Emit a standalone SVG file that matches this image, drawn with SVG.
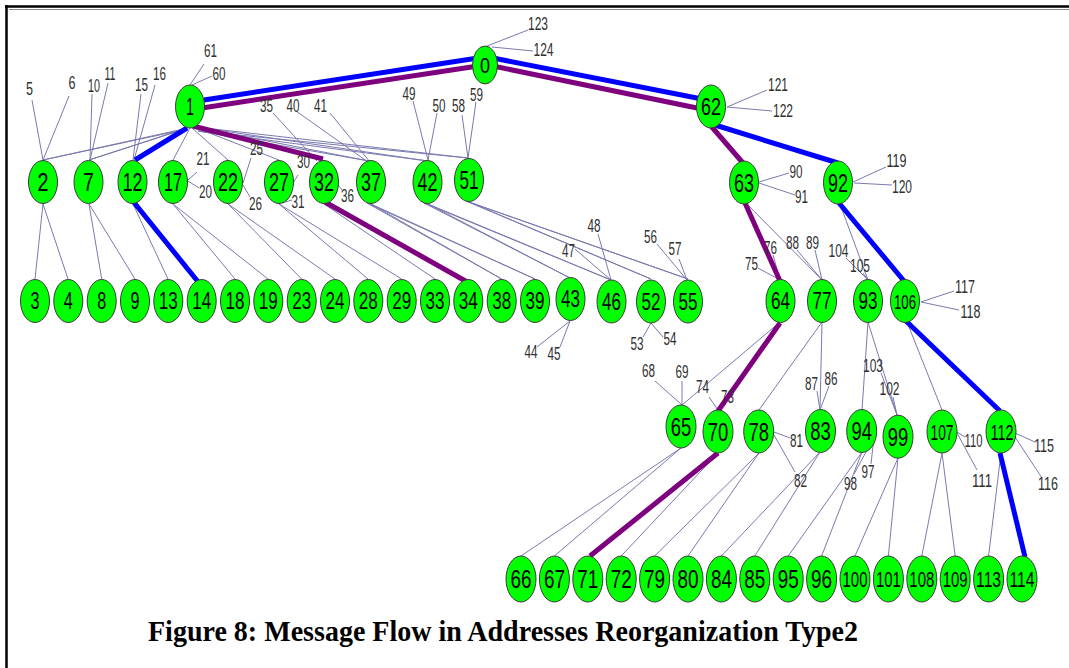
<svg xmlns="http://www.w3.org/2000/svg" width="1069" height="668" viewBox="0 0 1069 668">
<style>
.nd{fill:#00ff00;stroke:#3a3a3a;stroke-width:1}
.lb{font-family:"Liberation Sans",Arial,sans-serif;text-anchor:middle;fill:#000}
.f22{font-size:22px}.f23{font-size:23px}.f25{font-size:25px}.f26{font-size:26px}.f21{font-size:21px}
.sm{font-family:"Liberation Sans",Arial,sans-serif;font-size:18px;fill:#303030;text-anchor:middle}
.th line{stroke:#7a7ab0;stroke-width:1}
.bl{stroke:#0000ff;stroke-width:5}
.pu{stroke:#7f007f;stroke-width:5}
.cap{font-family:"Liberation Serif","Times New Roman",serif;font-weight:bold;font-size:29px;fill:#000}
</style>
<rect width="1069" height="668" fill="#fff"/>
<g id="frame">
<line x1="5" y1="6.5" x2="1069" y2="6.5" stroke="#000" stroke-width="2.5"/>
<line x1="9" y1="9.5" x2="1069" y2="9.5" stroke="#888" stroke-width="1"/>
<line x1="6.5" y1="5" x2="6.5" y2="668" stroke="#000" stroke-width="2.5"/>
</g>
<g id="connectors">
<g class="th">
<line x1="487" y1="46" x2="528" y2="30"/><line x1="492" y1="47" x2="533" y2="51"/>
<line x1="190" y1="85" x2="204" y2="64"/><line x1="192" y1="85" x2="212" y2="76"/>
<line x1="188" y1="128" x2="43" y2="160"/><line x1="178" y1="131" x2="43" y2="160"/>
<line x1="188" y1="128" x2="89" y2="160"/><line x1="178" y1="131" x2="89" y2="160"/>
<line x1="190" y1="128" x2="173" y2="160"/>
<line x1="192" y1="128" x2="228" y2="160"/>
<line x1="194" y1="127" x2="279" y2="160"/>
<line x1="196" y1="127" x2="369" y2="161"/><line x1="198" y1="131" x2="369" y2="161"/>
<line x1="196" y1="127" x2="428" y2="161"/><line x1="198" y1="131" x2="428" y2="161"/>
<line x1="196" y1="127" x2="468" y2="158"/><line x1="198" y1="131" x2="468" y2="158"/>
<line x1="43" y1="160" x2="32" y2="100"/><line x1="43" y1="160" x2="69" y2="96"/>
<line x1="90" y1="160" x2="92" y2="94"/><line x1="90" y1="160" x2="108" y2="83"/>
<line x1="133" y1="160" x2="141" y2="94"/><line x1="134" y1="160" x2="155" y2="85"/>
<line x1="188" y1="180" x2="197" y2="172"/><line x1="188" y1="181" x2="199" y2="188"/>
<line x1="243" y1="183" x2="251" y2="158"/><line x1="243" y1="185" x2="250" y2="197"/>
<line x1="293" y1="183" x2="298" y2="175"/><line x1="282" y1="203" x2="292" y2="200"/>
<line x1="317" y1="161" x2="273" y2="113"/><line x1="338" y1="185" x2="342" y2="190"/>
<line x1="368" y1="162" x2="296" y2="111"/><line x1="370" y1="162" x2="330" y2="113"/>
<line x1="428" y1="160" x2="413" y2="101"/><line x1="428" y1="160" x2="437" y2="113"/>
<line x1="468" y1="158" x2="462" y2="115"/><line x1="468" y1="158" x2="476" y2="102"/>
<line x1="727" y1="107" x2="767" y2="90"/><line x1="727" y1="107" x2="772" y2="111"/>
<line x1="759" y1="182" x2="789" y2="173"/><line x1="759" y1="183" x2="795" y2="195"/>
<line x1="853" y1="182" x2="886" y2="167"/><line x1="854" y1="183" x2="892" y2="185"/>
<line x1="746" y1="203" x2="822" y2="280"/>
<line x1="840" y1="204" x2="868" y2="280"/>
<line x1="43" y1="204" x2="35" y2="279"/><line x1="43" y1="204" x2="68" y2="279"/>
<line x1="89" y1="204" x2="101.7" y2="279"/><line x1="89" y1="204" x2="135" y2="279"/>
<line x1="133" y1="204" x2="168" y2="279"/>
<line x1="173" y1="204" x2="235" y2="279"/><line x1="173" y1="204" x2="268" y2="279"/>
<line x1="228" y1="204" x2="301.7" y2="279"/><line x1="228" y1="204" x2="335" y2="279"/>
<line x1="279" y1="204" x2="368" y2="279"/><line x1="279" y1="204" x2="401.7" y2="279"/>
<line x1="324" y1="204" x2="435" y2="279"/>
<line x1="371" y1="204" x2="501.7" y2="279"/><line x1="367" y1="203" x2="501.7" y2="279"/>
<line x1="371" y1="204" x2="535" y2="279"/><line x1="367" y1="203" x2="535" y2="279"/>
<line x1="428" y1="204" x2="570" y2="278"/><line x1="424" y1="203" x2="570" y2="278"/>
<line x1="428" y1="204" x2="611" y2="280"/><line x1="424" y1="203" x2="611" y2="280"/>
<line x1="469" y1="202" x2="651" y2="279"/><line x1="466" y1="201" x2="651" y2="279"/>
<line x1="469" y1="202" x2="688" y2="279"/><line x1="466" y1="201" x2="688" y2="279"/>
<line x1="570" y1="321" x2="537" y2="347"/><line x1="570" y1="321" x2="560" y2="347"/>
<line x1="611" y1="280" x2="575" y2="249"/><line x1="611" y1="280" x2="598" y2="234"/>
<line x1="651" y1="323" x2="643" y2="337"/><line x1="651" y1="323" x2="663" y2="337"/>
<line x1="687" y1="280" x2="657" y2="244"/><line x1="687" y1="280" x2="679" y2="259"/>
<line x1="780" y1="280" x2="758" y2="268"/><line x1="780" y1="280" x2="773" y2="255"/>
<line x1="822" y1="280" x2="797" y2="250"/><line x1="822" y1="280" x2="815" y2="250"/>
<line x1="868" y1="280" x2="846" y2="258"/><line x1="868" y1="280" x2="863" y2="273"/>
<line x1="921" y1="302" x2="954" y2="291"/><line x1="921" y1="302" x2="959" y2="310"/>
<line x1="907" y1="322" x2="942" y2="410"/>
<line x1="780" y1="322" x2="682" y2="405"/>
<line x1="822" y1="322" x2="759" y2="410"/><line x1="822" y1="322" x2="820" y2="410"/>
<line x1="868" y1="322" x2="862" y2="410"/><line x1="868" y1="322" x2="897" y2="415"/>
<line x1="682" y1="405" x2="655" y2="381"/><line x1="682" y1="405" x2="682" y2="381"/>
<line x1="718" y1="410" x2="709" y2="397"/><line x1="718" y1="410" x2="726" y2="404"/>
<line x1="820" y1="410" x2="817" y2="391"/><line x1="820" y1="410" x2="829" y2="386"/>
<line x1="897" y1="415" x2="881" y2="373"/><line x1="897" y1="415" x2="893" y2="397"/>
<line x1="774" y1="432" x2="790" y2="438"/><line x1="774" y1="435" x2="795" y2="472"/>
<line x1="874" y1="437" x2="871" y2="464"/><line x1="872" y1="441" x2="854" y2="474"/>
<line x1="957" y1="432" x2="965" y2="437"/><line x1="957" y1="433" x2="977" y2="470"/>
<line x1="1015" y1="433" x2="1035" y2="442"/><line x1="1015" y1="437" x2="1042" y2="478"/>
<line x1="681" y1="448" x2="521" y2="556"/><line x1="681" y1="448" x2="554.4" y2="556"/>
<line x1="718" y1="453" x2="621.2" y2="556"/>
<line x1="759" y1="453" x2="654.6" y2="556"/><line x1="759" y1="453" x2="688" y2="556"/>
<line x1="820" y1="452" x2="721.4" y2="556"/><line x1="820" y1="452" x2="754.8" y2="556"/>
<line x1="862" y1="452" x2="788.2" y2="556"/><line x1="862" y1="452" x2="821.6" y2="556"/>
<line x1="898" y1="458" x2="855" y2="556"/><line x1="898" y1="458" x2="888.4" y2="556"/>
<line x1="942" y1="453" x2="921.8" y2="556"/><line x1="942" y1="453" x2="955.2" y2="556"/>
<line x1="1001" y1="453" x2="988.6" y2="556"/>
</g>
<g id="blue-path">
<line class="bl" x1="204" y1="100" x2="478" y2="58"/>
<line class="bl" x1="493" y1="58" x2="702" y2="99"/>
<line class="bl" x1="715" y1="125" x2="838" y2="163"/>
<line class="bl" x1="839" y1="203" x2="904" y2="281"/>
<line class="bl" x1="906" y1="321" x2="1000" y2="411"/>
<line class="bl" x1="1000" y1="453" x2="1025" y2="557"/>
<line class="bl" x1="187" y1="128" x2="135" y2="160"/>
<line class="bl" x1="132" y1="200" x2="199" y2="283"/>
</g>
<g id="purple-path">
<line class="pu" x1="202" y1="108" x2="478" y2="66"/>
<line class="pu" x1="493" y1="66" x2="697" y2="108"/>
<line class="pu" x1="711" y1="126" x2="743" y2="163"/>
<line class="pu" x1="745" y1="203" x2="780" y2="281"/>
<line class="pu" x1="780" y1="323" x2="718" y2="411"/>
<line class="pu" x1="718" y1="453" x2="590" y2="556"/>
<line class="pu" x1="193" y1="126" x2="323" y2="159"/>
<line class="pu" x1="325" y1="202" x2="469" y2="283"/>
</g>
</g>
<g id="leaf-labels">
<text class="sm" x="210.5" y="57" textLength="13" lengthAdjust="spacingAndGlyphs">61</text>
<text class="sm" x="219" y="80" textLength="13" lengthAdjust="spacingAndGlyphs">60</text>
<text class="sm" x="29.5" y="95" textLength="7" lengthAdjust="spacingAndGlyphs">5</text>
<text class="sm" x="72" y="89" textLength="7" lengthAdjust="spacingAndGlyphs">6</text>
<text class="sm" x="94" y="92" textLength="12" lengthAdjust="spacingAndGlyphs">10</text>
<text class="sm" x="110" y="80" textLength="11" lengthAdjust="spacingAndGlyphs">11</text>
<text class="sm" x="141.5" y="91" textLength="13" lengthAdjust="spacingAndGlyphs">15</text>
<text class="sm" x="159.5" y="80" textLength="13" lengthAdjust="spacingAndGlyphs">16</text>
<text class="sm" x="203" y="165" textLength="13" lengthAdjust="spacingAndGlyphs">21</text>
<text class="sm" x="205.5" y="198" textLength="13" lengthAdjust="spacingAndGlyphs">20</text>
<text class="sm" x="256.5" y="155" textLength="13" lengthAdjust="spacingAndGlyphs">25</text>
<text class="sm" x="255.5" y="210" textLength="13" lengthAdjust="spacingAndGlyphs">26</text>
<text class="sm" x="303.5" y="168" textLength="13" lengthAdjust="spacingAndGlyphs">30</text>
<text class="sm" x="298" y="208" textLength="13" lengthAdjust="spacingAndGlyphs">31</text>
<text class="sm" x="266.5" y="112" textLength="13" lengthAdjust="spacingAndGlyphs">35</text>
<text class="sm" x="347.5" y="202" textLength="13" lengthAdjust="spacingAndGlyphs">36</text>
<text class="sm" x="293" y="112" textLength="13" lengthAdjust="spacingAndGlyphs">40</text>
<text class="sm" x="320.5" y="112" textLength="13" lengthAdjust="spacingAndGlyphs">41</text>
<text class="sm" x="409" y="100" textLength="13" lengthAdjust="spacingAndGlyphs">49</text>
<text class="sm" x="439" y="112" textLength="13" lengthAdjust="spacingAndGlyphs">50</text>
<text class="sm" x="458.5" y="112" textLength="13" lengthAdjust="spacingAndGlyphs">58</text>
<text class="sm" x="476.5" y="101" textLength="13" lengthAdjust="spacingAndGlyphs">59</text>
<text class="sm" x="538" y="30" textLength="20" lengthAdjust="spacingAndGlyphs">123</text>
<text class="sm" x="543.5" y="56" textLength="20" lengthAdjust="spacingAndGlyphs">124</text>
<text class="sm" x="778" y="91" textLength="20" lengthAdjust="spacingAndGlyphs">121</text>
<text class="sm" x="783" y="117" textLength="20" lengthAdjust="spacingAndGlyphs">122</text>
<text class="sm" x="796" y="178" textLength="13" lengthAdjust="spacingAndGlyphs">90</text>
<text class="sm" x="801.5" y="203" textLength="13" lengthAdjust="spacingAndGlyphs">91</text>
<text class="sm" x="896.5" y="167" textLength="20" lengthAdjust="spacingAndGlyphs">119</text>
<text class="sm" x="902" y="193" textLength="20" lengthAdjust="spacingAndGlyphs">120</text>
<text class="sm" x="568.5" y="257" textLength="13" lengthAdjust="spacingAndGlyphs">47</text>
<text class="sm" x="594" y="232" textLength="13" lengthAdjust="spacingAndGlyphs">48</text>
<text class="sm" x="531" y="358" textLength="13" lengthAdjust="spacingAndGlyphs">44</text>
<text class="sm" x="554" y="360" textLength="13" lengthAdjust="spacingAndGlyphs">45</text>
<text class="sm" x="637" y="350" textLength="13" lengthAdjust="spacingAndGlyphs">53</text>
<text class="sm" x="670" y="345" textLength="13" lengthAdjust="spacingAndGlyphs">54</text>
<text class="sm" x="650.5" y="243" textLength="13" lengthAdjust="spacingAndGlyphs">56</text>
<text class="sm" x="675" y="255" textLength="13" lengthAdjust="spacingAndGlyphs">57</text>
<text class="sm" x="751.5" y="270" textLength="13" lengthAdjust="spacingAndGlyphs">75</text>
<text class="sm" x="770.5" y="254" textLength="13" lengthAdjust="spacingAndGlyphs">76</text>
<text class="sm" x="792.5" y="249" textLength="13" lengthAdjust="spacingAndGlyphs">88</text>
<text class="sm" x="812.5" y="249" textLength="13" lengthAdjust="spacingAndGlyphs">89</text>
<text class="sm" x="838.5" y="257" textLength="20" lengthAdjust="spacingAndGlyphs">104</text>
<text class="sm" x="860" y="272" textLength="20" lengthAdjust="spacingAndGlyphs">105</text>
<text class="sm" x="965" y="293" textLength="20" lengthAdjust="spacingAndGlyphs">117</text>
<text class="sm" x="970.5" y="318" textLength="20" lengthAdjust="spacingAndGlyphs">118</text>
<text class="sm" x="648.5" y="377" textLength="13" lengthAdjust="spacingAndGlyphs">68</text>
<text class="sm" x="682" y="378" textLength="13" lengthAdjust="spacingAndGlyphs">69</text>
<text class="sm" x="702.5" y="393" textLength="13" lengthAdjust="spacingAndGlyphs">74</text>
<text class="sm" x="727.5" y="403" textLength="13" lengthAdjust="spacingAndGlyphs">73</text>
<text class="sm" x="811.5" y="390" textLength="13" lengthAdjust="spacingAndGlyphs">87</text>
<text class="sm" x="831" y="385" textLength="13" lengthAdjust="spacingAndGlyphs">86</text>
<text class="sm" x="873" y="372" textLength="20" lengthAdjust="spacingAndGlyphs">103</text>
<text class="sm" x="889.5" y="395" textLength="20" lengthAdjust="spacingAndGlyphs">102</text>
<text class="sm" x="796.5" y="447" textLength="13" lengthAdjust="spacingAndGlyphs">81</text>
<text class="sm" x="800.5" y="487" textLength="13" lengthAdjust="spacingAndGlyphs">82</text>
<text class="sm" x="868" y="478" textLength="13" lengthAdjust="spacingAndGlyphs">97</text>
<text class="sm" x="850.5" y="490" textLength="13" lengthAdjust="spacingAndGlyphs">98</text>
<text class="sm" x="973.5" y="447" textLength="18" lengthAdjust="spacingAndGlyphs">110</text>
<text class="sm" x="982" y="487" textLength="20" lengthAdjust="spacingAndGlyphs">111</text>
<text class="sm" x="1044" y="452" textLength="20" lengthAdjust="spacingAndGlyphs">115</text>
<text class="sm" x="1048" y="490" textLength="20" lengthAdjust="spacingAndGlyphs">116</text>
</g>
<g id="nodes">
<g id="n0"><ellipse class="nd" cx="485" cy="65" rx="12.5" ry="19"/><text class="lb f22" x="485" y="73" textLength="10" lengthAdjust="spacingAndGlyphs">0</text></g>
<g id="n1"><ellipse class="nd" cx="190" cy="106.5" rx="14.5" ry="21.5"/><text class="lb f23" x="190" y="115" textLength="8" lengthAdjust="spacingAndGlyphs">1</text></g>
<g id="n62"><ellipse class="nd" cx="711" cy="106.5" rx="14.5" ry="21.5"/><text class="lb f23" x="711" y="115" textLength="20" lengthAdjust="spacingAndGlyphs">62</text></g>
<g id="n2"><ellipse class="nd" cx="43" cy="182" rx="14.5" ry="21.5"/><text class="lb f25" x="43" y="191" textLength="11" lengthAdjust="spacingAndGlyphs">2</text></g>
<g id="n7"><ellipse class="nd" cx="88.5" cy="182" rx="14.5" ry="21.5"/><text class="lb f25" x="88.5" y="191" textLength="11" lengthAdjust="spacingAndGlyphs">7</text></g>
<g id="n12"><ellipse class="nd" cx="132.5" cy="182" rx="14.5" ry="21.5"/><text class="lb f25" x="132.5" y="191" textLength="20" lengthAdjust="spacingAndGlyphs">12</text></g>
<g id="n17"><ellipse class="nd" cx="173" cy="182" rx="14.5" ry="21.5"/><text class="lb f25" x="173" y="191" textLength="18" lengthAdjust="spacingAndGlyphs">17</text></g>
<g id="n22"><ellipse class="nd" cx="228" cy="182" rx="14.5" ry="21.5"/><text class="lb f25" x="228" y="191" textLength="20" lengthAdjust="spacingAndGlyphs">22</text></g>
<g id="n27"><ellipse class="nd" cx="279" cy="182" rx="14.5" ry="21.5"/><text class="lb f25" x="279" y="191" textLength="20" lengthAdjust="spacingAndGlyphs">27</text></g>
<g id="n32"><ellipse class="nd" cx="324" cy="182" rx="14.5" ry="21.5"/><text class="lb f25" x="324" y="191" textLength="20" lengthAdjust="spacingAndGlyphs">32</text></g>
<g id="n37"><ellipse class="nd" cx="371" cy="182" rx="14.5" ry="21.5"/><text class="lb f25" x="371" y="191" textLength="20" lengthAdjust="spacingAndGlyphs">37</text></g>
<g id="n42"><ellipse class="nd" cx="427.5" cy="182" rx="14.5" ry="21.5"/><text class="lb f25" x="427.5" y="191" textLength="20" lengthAdjust="spacingAndGlyphs">42</text></g>
<g id="n51"><ellipse class="nd" cx="469" cy="180" rx="14.5" ry="21.5"/><text class="lb f25" x="469" y="189" textLength="19" lengthAdjust="spacingAndGlyphs">51</text></g>
<g id="n63"><ellipse class="nd" cx="744" cy="182.5" rx="14.5" ry="21.5"/><text class="lb f25" x="744" y="191.5" textLength="20" lengthAdjust="spacingAndGlyphs">63</text></g>
<g id="n92"><ellipse class="nd" cx="838" cy="182.5" rx="14.5" ry="21.5"/><text class="lb f25" x="838" y="191.5" textLength="20" lengthAdjust="spacingAndGlyphs">92</text></g>
<g id="n3"><ellipse class="nd" cx="35" cy="301" rx="14.5" ry="21.5"/><text class="lb f23" x="35" y="309" textLength="9" lengthAdjust="spacingAndGlyphs">3</text></g>
<g id="n4"><ellipse class="nd" cx="68.3" cy="301" rx="14.5" ry="21.5"/><text class="lb f23" x="68.3" y="309" textLength="9" lengthAdjust="spacingAndGlyphs">4</text></g>
<g id="n8"><ellipse class="nd" cx="101.7" cy="301" rx="14.5" ry="21.5"/><text class="lb f23" x="101.7" y="309" textLength="9" lengthAdjust="spacingAndGlyphs">8</text></g>
<g id="n9"><ellipse class="nd" cx="135" cy="301" rx="14.5" ry="21.5"/><text class="lb f23" x="135" y="309" textLength="9" lengthAdjust="spacingAndGlyphs">9</text></g>
<g id="n13"><ellipse class="nd" cx="168.3" cy="301" rx="14.5" ry="21.5"/><text class="lb f23" x="168.3" y="309" textLength="19" lengthAdjust="spacingAndGlyphs">13</text></g>
<g id="n14"><ellipse class="nd" cx="201.7" cy="301" rx="14.5" ry="21.5"/><text class="lb f23" x="201.7" y="309" textLength="19" lengthAdjust="spacingAndGlyphs">14</text></g>
<g id="n18"><ellipse class="nd" cx="235" cy="301" rx="14.5" ry="21.5"/><text class="lb f23" x="235" y="309" textLength="19" lengthAdjust="spacingAndGlyphs">18</text></g>
<g id="n19"><ellipse class="nd" cx="268.3" cy="301" rx="14.5" ry="21.5"/><text class="lb f23" x="268.3" y="309" textLength="19" lengthAdjust="spacingAndGlyphs">19</text></g>
<g id="n23"><ellipse class="nd" cx="301.7" cy="301" rx="14.5" ry="21.5"/><text class="lb f23" x="301.7" y="309" textLength="19" lengthAdjust="spacingAndGlyphs">23</text></g>
<g id="n24"><ellipse class="nd" cx="335" cy="301" rx="14.5" ry="21.5"/><text class="lb f23" x="335" y="309" textLength="19" lengthAdjust="spacingAndGlyphs">24</text></g>
<g id="n28"><ellipse class="nd" cx="368.3" cy="301" rx="14.5" ry="21.5"/><text class="lb f23" x="368.3" y="309" textLength="19" lengthAdjust="spacingAndGlyphs">28</text></g>
<g id="n29"><ellipse class="nd" cx="401.7" cy="301" rx="14.5" ry="21.5"/><text class="lb f23" x="401.7" y="309" textLength="19" lengthAdjust="spacingAndGlyphs">29</text></g>
<g id="n33"><ellipse class="nd" cx="435" cy="301" rx="14.5" ry="21.5"/><text class="lb f23" x="435" y="309" textLength="19" lengthAdjust="spacingAndGlyphs">33</text></g>
<g id="n34"><ellipse class="nd" cx="468.3" cy="301" rx="14.5" ry="21.5"/><text class="lb f23" x="468.3" y="309" textLength="19" lengthAdjust="spacingAndGlyphs">34</text></g>
<g id="n38"><ellipse class="nd" cx="501.7" cy="301" rx="14.5" ry="21.5"/><text class="lb f23" x="501.7" y="309" textLength="19" lengthAdjust="spacingAndGlyphs">38</text></g>
<g id="n39"><ellipse class="nd" cx="535" cy="301" rx="14.5" ry="21.5"/><text class="lb f23" x="535" y="309" textLength="19" lengthAdjust="spacingAndGlyphs">39</text></g>
<g id="n43"><ellipse class="nd" cx="570.5" cy="299" rx="14.5" ry="21.5"/><text class="lb f23" x="570.5" y="307" textLength="19" lengthAdjust="spacingAndGlyphs">43</text></g>
<g id="n46"><ellipse class="nd" cx="611.5" cy="301.5" rx="14.5" ry="21.5"/><text class="lb f23" x="611.5" y="309.5" textLength="19" lengthAdjust="spacingAndGlyphs">46</text></g>
<g id="n52"><ellipse class="nd" cx="651" cy="301.5" rx="14.5" ry="21.5"/><text class="lb f23" x="651" y="309.5" textLength="19" lengthAdjust="spacingAndGlyphs">52</text></g>
<g id="n55"><ellipse class="nd" cx="688" cy="301.5" rx="14.5" ry="21.5"/><text class="lb f23" x="688" y="309.5" textLength="19" lengthAdjust="spacingAndGlyphs">55</text></g>
<g id="n64"><ellipse class="nd" cx="780.5" cy="301" rx="14.5" ry="21.5"/><text class="lb f23" x="780.5" y="309" textLength="19" lengthAdjust="spacingAndGlyphs">64</text></g>
<g id="n77"><ellipse class="nd" cx="822" cy="301" rx="14.5" ry="21.5"/><text class="lb f23" x="822" y="309" textLength="19" lengthAdjust="spacingAndGlyphs">77</text></g>
<g id="n93"><ellipse class="nd" cx="868" cy="301" rx="14.5" ry="21.5"/><text class="lb f23" x="868" y="309" textLength="19" lengthAdjust="spacingAndGlyphs">93</text></g>
<g id="n106"><ellipse class="nd" cx="905" cy="301" rx="14.5" ry="21.5"/><text class="lb f21" x="905" y="308.5" textLength="22" lengthAdjust="spacingAndGlyphs">106</text></g>
<g id="n65"><ellipse class="nd" cx="681" cy="426.5" rx="15" ry="21.5"/><text class="lb f25" x="681" y="435.5" textLength="20.5" lengthAdjust="spacingAndGlyphs">65</text></g>
<g id="n70"><ellipse class="nd" cx="718" cy="431.5" rx="15" ry="21.5"/><text class="lb f25" x="718" y="440.5" textLength="20.5" lengthAdjust="spacingAndGlyphs">70</text></g>
<g id="n78"><ellipse class="nd" cx="758.7" cy="431.5" rx="15" ry="21.5"/><text class="lb f25" x="758.7" y="440.5" textLength="20.5" lengthAdjust="spacingAndGlyphs">78</text></g>
<g id="n83"><ellipse class="nd" cx="820.5" cy="431" rx="15" ry="21.5"/><text class="lb f25" x="820.5" y="440" textLength="20.5" lengthAdjust="spacingAndGlyphs">83</text></g>
<g id="n94"><ellipse class="nd" cx="861.7" cy="431" rx="15" ry="21.5"/><text class="lb f25" x="861.7" y="440" textLength="20.5" lengthAdjust="spacingAndGlyphs">94</text></g>
<g id="n99"><ellipse class="nd" cx="898" cy="436.7" rx="15" ry="21.5"/><text class="lb f25" x="898" y="445.5" textLength="20.5" lengthAdjust="spacingAndGlyphs">99</text></g>
<g id="n107"><ellipse class="nd" cx="942" cy="431.5" rx="15" ry="21.5"/><text class="lb f22" x="942" y="439.5" textLength="23" lengthAdjust="spacingAndGlyphs">107</text></g>
<g id="n112"><ellipse class="nd" cx="1001" cy="431.5" rx="15" ry="21.5"/><text class="lb f22" x="1002" y="439.5" textLength="23" lengthAdjust="spacingAndGlyphs">112</text></g>
<g id="n66"><ellipse class="nd" cx="521" cy="579" rx="15" ry="23"/><text class="lb f26" x="521" y="588.3" textLength="21" lengthAdjust="spacingAndGlyphs">66</text></g>
<g id="n67"><ellipse class="nd" cx="554.4" cy="579" rx="15" ry="23"/><text class="lb f26" x="554.4" y="588.3" textLength="21" lengthAdjust="spacingAndGlyphs">67</text></g>
<g id="n71"><ellipse class="nd" cx="587.8" cy="579" rx="15" ry="23"/><text class="lb f26" x="587.8" y="588.3" textLength="21" lengthAdjust="spacingAndGlyphs">71</text></g>
<g id="n72"><ellipse class="nd" cx="621.2" cy="579" rx="15" ry="23"/><text class="lb f26" x="621.2" y="588.3" textLength="21" lengthAdjust="spacingAndGlyphs">72</text></g>
<g id="n79"><ellipse class="nd" cx="654.6" cy="579" rx="15" ry="23"/><text class="lb f26" x="654.6" y="588.3" textLength="21" lengthAdjust="spacingAndGlyphs">79</text></g>
<g id="n80"><ellipse class="nd" cx="688" cy="579" rx="15" ry="23"/><text class="lb f26" x="688" y="588.3" textLength="21" lengthAdjust="spacingAndGlyphs">80</text></g>
<g id="n84"><ellipse class="nd" cx="721.4" cy="579" rx="15" ry="23"/><text class="lb f26" x="721.4" y="588.3" textLength="21" lengthAdjust="spacingAndGlyphs">84</text></g>
<g id="n85"><ellipse class="nd" cx="754.8" cy="579" rx="15" ry="23"/><text class="lb f26" x="754.8" y="588.3" textLength="21" lengthAdjust="spacingAndGlyphs">85</text></g>
<g id="n95"><ellipse class="nd" cx="788.2" cy="579" rx="15" ry="23"/><text class="lb f26" x="788.2" y="588.3" textLength="21" lengthAdjust="spacingAndGlyphs">95</text></g>
<g id="n96"><ellipse class="nd" cx="821.6" cy="579" rx="15" ry="23"/><text class="lb f26" x="821.6" y="588.3" textLength="21" lengthAdjust="spacingAndGlyphs">96</text></g>
<g id="n100"><ellipse class="nd" cx="855" cy="579" rx="15" ry="23"/><text class="lb f22" x="855" y="587" textLength="25" lengthAdjust="spacingAndGlyphs">100</text></g>
<g id="n101"><ellipse class="nd" cx="888.4" cy="579" rx="15" ry="23"/><text class="lb f22" x="888.4" y="587" textLength="25" lengthAdjust="spacingAndGlyphs">101</text></g>
<g id="n108"><ellipse class="nd" cx="921.8" cy="579" rx="15" ry="23"/><text class="lb f22" x="921.8" y="587" textLength="25" lengthAdjust="spacingAndGlyphs">108</text></g>
<g id="n109"><ellipse class="nd" cx="955.2" cy="579" rx="15" ry="23"/><text class="lb f22" x="955.2" y="587" textLength="25" lengthAdjust="spacingAndGlyphs">109</text></g>
<g id="n113"><ellipse class="nd" cx="988.6" cy="579" rx="15" ry="23"/><text class="lb f22" x="988.6" y="587" textLength="25" lengthAdjust="spacingAndGlyphs">113</text></g>
<g id="n114"><ellipse class="nd" cx="1022" cy="579" rx="15" ry="23"/><text class="lb f22" x="1022" y="587" textLength="25" lengthAdjust="spacingAndGlyphs">114</text></g>
</g>
<text id="caption" class="cap" x="148" y="641" textLength="710" lengthAdjust="spacingAndGlyphs">Figure 8: Message Flow in Addresses Reorganization Type2</text>
</svg>
